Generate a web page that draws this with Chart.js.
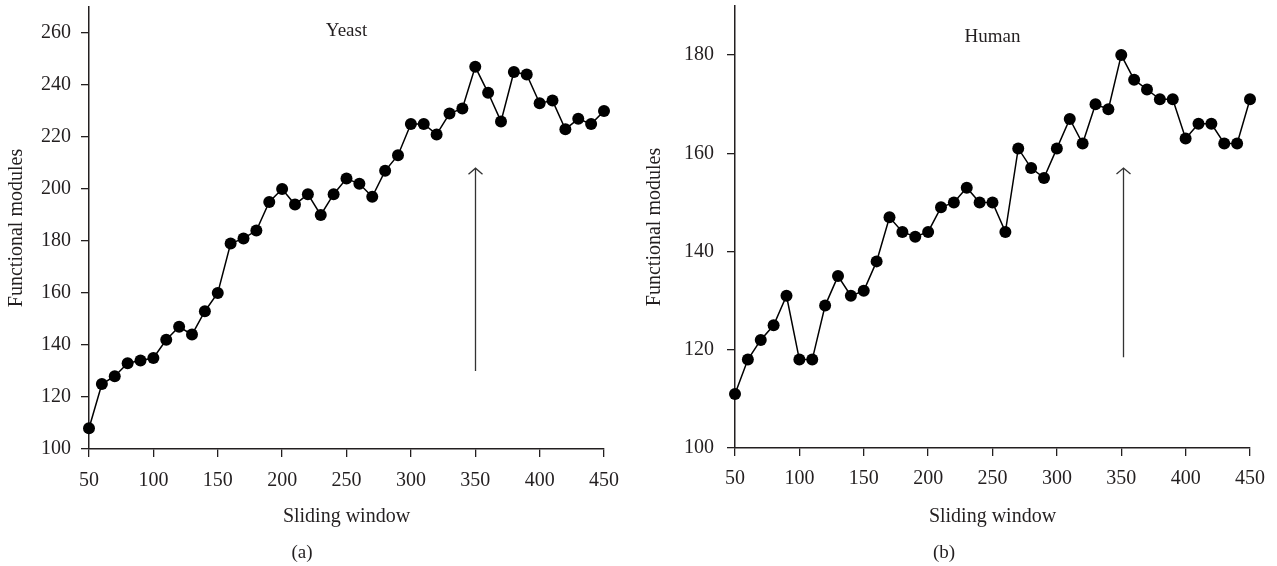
<!DOCTYPE html>
<html><head><meta charset="utf-8">
<script src="https://cdn.jsdelivr.net/npm/chart.js@4.4.0/dist/chart.umd.min.js"></script>
<style>
html,body{margin:0;padding:0;background:#fff;}
#wrap{position:relative;width:1277px;height:566px;}
.box{position:absolute;top:0;height:566px;}
</style></head><body>
<div id="wrap">
<div class="box" style="left:0;width:638px"><canvas id="c1" width="638" height="566"></canvas></div>
<div class="box" style="left:638px;width:639px"><canvas id="c2" width="639" height="566"></canvas></div>
</div>
<script>
// ---- data ----
const windowSizes = [50,60,70,80,90,100,110,120,130,140,150,160,170,180,190,200,210,220,230,240,250,260,270,280,290,300,310,320,330,340,350,360,370,380,390,400,410,420,430,440,450];
const yeastModules = [108,125,128,133,134,135,142,147,144,153,160,179,181,184,195,200,194,198,190,198,204,202,197,207,213,225,225,221,229,231,247,237,226,245,244,233,234,223,227,225,230];
const humanModules = [111,118,122,125,131,118,118,129,135,131,132,138,147,144,143,144,149,150,153,150,150,144,161,157,155,161,167,162,170,169,180,175,173,171,171,163,166,166,162,162,171];
const xTickValues = [50,100,150,200,250,300,350,400,450];
const yeastYTicks = [100,120,140,160,180,200,220,240,260];
const humanYTicks = [100,120,140,160,180];
const yeastArrow = [350,130,208];   // x, from, to
const humanArrow = [351,118.5,157];
const panelNames = ['Yeast','Human'];
const panelCaptions = ['(a)','(b)'];
const xTitle = 'Sliding window';
const yTitle = 'Functional modules';

// ---- styling ----
const FONT = '"Liberation Serif", "DejaVu Serif", serif';
const INK = '#231f20';

const overlay = {
  id: 'overlay',
  afterDatasetsDraw(chart, args, opts) {
    const {ctx, chartArea, scales: {x, y}} = chart;
    const [ax, a0, a1] = opts.arrow;
    const px = Math.round(x.getPixelForValue(ax)) + 0.5;
    const p0 = y.getPixelForValue(a0), p1 = y.getPixelForValue(a1);
    ctx.save();
    ctx.strokeStyle = '#333';
    ctx.lineWidth = 1.3;
    ctx.beginPath();
    ctx.moveTo(px, p0); ctx.lineTo(px, p1);
    ctx.moveTo(px - 7, p1 + 6); ctx.lineTo(px, p1); ctx.lineTo(px + 7, p1 + 6);
    ctx.stroke();
    ctx.font = '19px ' + FONT;
    ctx.fillStyle = INK;
    ctx.textAlign = 'center';
    ctx.textBaseline = 'middle';
    ctx.fillText(opts.label, (chartArea.left + chartArea.right) / 2, chartArea.top + opts.labelOffset);
    ctx.restore();
  }
};

function makeChart(id, values, yTicks, yMax, arrow, name, caption, geo) {
  const pts = windowSizes.map((w, i) => ({x: w, y: values[i]}));
  return new Chart(document.getElementById(id), {
    type: 'line',
    data: { datasets: [{
      data: pts,
      borderColor: '#000', borderWidth: 1.5,
      pointRadius: 6, pointHoverRadius: 6,
      pointBackgroundColor: '#000', pointBorderColor: '#000', pointBorderWidth: 0,
      tension: 0, fill: false, clip: false
    }]},
    options: {
      responsive: false, animation: false, devicePixelRatio: 1,
      layout: { padding: {top: geo.top, right: geo.right, left: 0, bottom: 0} },
      plugins: {
        legend: {display: false}, tooltip: {enabled: false},
        title: { display: true, text: caption, position: 'bottom', color: INK,
                 font: {family: FONT, size: 19, weight: 'normal'}, padding: {top: 0, bottom: 1.6} },
        overlay: { arrow: arrow, label: name, labelOffset: geo.labelOffset }
      },
      scales: {
        x: {
          type: 'linear', min: 50, max: 450,
          afterBuildTicks: s => { s.ticks = xTickValues.map(v => ({value: v})); },
          afterFit: s => { s.height = geo.xHeight; s.paddingLeft = 0; s.paddingRight = 0; },
          grid: {drawOnChartArea: false, drawTicks: true, tickLength: 8, color: INK, lineWidth: 1.3},
          border: {display: true, color: INK, width: 1.5},
          ticks: {color: INK, font: {family: FONT, size: 20}, padding: geo.xTickPad, maxRotation: 0, autoSkip: false},
          title: {display: true, text: xTitle, color: INK, font: {family: FONT, size: 20}, padding: {top: 0, bottom: 13}}
        },
        y: {
          type: 'linear', min: 100, max: yMax,
          afterBuildTicks: s => { s.ticks = yTicks.map(v => ({value: v})); },
          afterFit: s => { s.width = geo.yWidth; s.paddingTop = 0; s.paddingBottom = 0; },
          grid: {drawOnChartArea: false, drawTicks: true, tickLength: 8, color: INK, lineWidth: 1.3},
          border: {display: true, color: INK, width: 1.5},
          ticks: {color: INK, font: {family: FONT, size: 20}, padding: geo.yTickPad},
          title: {display: true, text: yTitle, color: INK, font: {family: FONT, size: 20}, padding: {top: 4.5, bottom: 0}}
        }
      }
    },
    plugins: [overlay]
  });
}

makeChart('c1', yeastModules, yeastYTicks, 270, yeastArrow, panelNames[0], panelCaptions[0],
  {top: 7, right: 34, yWidth: 89, xHeight: 92.6, xTickPad: 12, yTickPad: 10, labelOffset: 24});
makeChart('c2', humanModules, humanYTicks, 190, humanArrow, panelNames[1], panelCaptions[1],
  {top: 5, right: 27, yWidth: 97, xHeight: 93.6, xTickPad: 11, yTickPad: 13, labelOffset: 31});
</script>
</body></html>
